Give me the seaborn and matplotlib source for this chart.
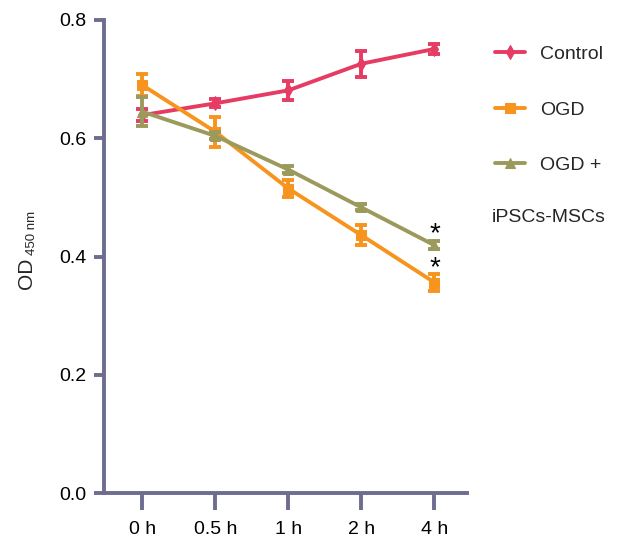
import numpy as np
import pandas as pd
import matplotlib
matplotlib.use("Agg")
import matplotlib.pyplot as plt
import seaborn as sns

time_labels = ["0 h", "0.5 h", "1 h", "2 h", "4 h"]

control_mean = [0.639, 0.659, 0.681, 0.726, 0.751]
control_err = [0.010, 0.007, 0.016, 0.022, 0.008]

ogd_mean = [0.690, 0.611, 0.515, 0.436, 0.356]
ogd_err = [0.018, 0.025, 0.015, 0.017, 0.015]

ogd_ipsc_mean = [0.645, 0.604, 0.547, 0.483, 0.419]
ogd_ipsc_err = [0.025, 0.006, 0.006, 0.005, 0.007]

series_names = ["Control", "OGD", "OGD +"]
colors = ["#E63B63", "#F7941D", "#9B9A5C"]
markers = ["d", "s", "^"]

axis_color = "#6E6D8F"

sns.set_style("white")
plt.rcParams["font.family"] = "Liberation Sans"

fig = plt.figure(figsize=(6.35, 5.4), dpi=100)
ax = fig.add_axes([0.164, 0.087, 0.572, 0.876])

x = np.arange(len(time_labels))
all_means = [control_mean, ogd_mean, ogd_ipsc_mean]
all_errs = [control_err, ogd_err, ogd_ipsc_err]

for name, mean, err, col, mk in zip(series_names, all_means, all_errs, colors, markers):
    df = pd.DataFrame({"x": x, "y": mean})
    sns.lineplot(data=df, x="x", y="y", color=col, marker=mk, markersize=7,
                 markeredgecolor=col, linewidth=2.8, label=name, ax=ax)
    ax.errorbar(x, mean, yerr=err, fmt="none", ecolor=col, elinewidth=2.8,
                capsize=4, capthick=2.8)

# significance asterisks at 4 h
ax.text(4, ogd_ipsc_mean[4] - 0.004, "*", ha="center", va="bottom", fontsize=20,
        color="black")
ax.text(4, ogd_mean[4] + 0.002, "*", ha="center", va="bottom", fontsize=20,
        color="black")

ax.set_xlim(-0.52, 4.45)
ax.set_ylim(0, 0.8)
ax.set_xticks(x)
ax.set_xticklabels(time_labels)
ax.set_yticks([0.0, 0.2, 0.4, 0.6, 0.8])
ax.set_yticklabels(["0.0", "0.2", "0.4", "0.6", "0.8"])
ax.set_xlabel("")
ax.set_ylabel("")

# y label: OD with subscript 450 nm
fig.text(0.041, 0.494, "OD", rotation=90, fontsize=15, ha="center", va="center")
fig.text(0.050, 0.569, "450 nm", rotation=90, fontsize=9.5, ha="center", va="center")

for side in ["top", "right"]:
    ax.spines[side].set_visible(False)
for side in ["left", "bottom"]:
    ax.spines[side].set_color(axis_color)
    ax.spines[side].set_linewidth(2.8)

ax.tick_params(axis="both", colors=axis_color, labelcolor="black", labelsize=14,
               width=2.8, bottom=True, left=True, direction="out")
ax.tick_params(axis="x", length=12, pad=8)
ax.tick_params(axis="y", length=7, pad=6)

leg = ax.legend(loc="upper left", bbox_to_anchor=(1.04, 0.975), frameon=False,
                fontsize=14, handlelength=1.5, handletextpad=0.8,
                labelspacing=1.95, borderaxespad=0.3)
fig.text(0.775, 0.598, "iPSCs-MSCs", fontsize=14, va="center", ha="left")

fig.savefig("out.png", dpi=100)
